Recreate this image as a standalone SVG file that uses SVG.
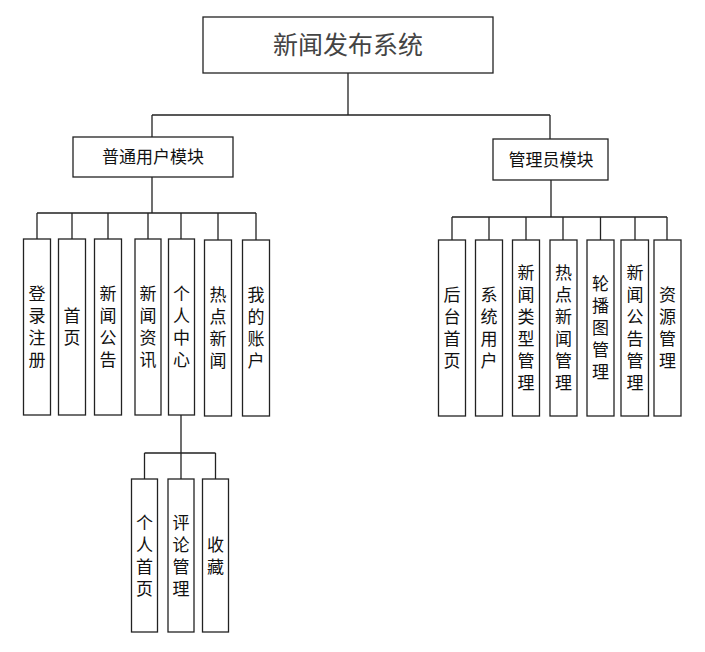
<svg xmlns="http://www.w3.org/2000/svg" width="705" height="652" viewBox="0 0 705 652">
<style>
.box{fill:#fff;stroke:#222;stroke-width:1.3}
.ln{fill:none;stroke:#222;stroke-width:1.3}
.t{font-family:"Noto Sans CJK SC","Liberation Sans",sans-serif;font-size:17px;fill:#111;text-anchor:middle}
.v{font-family:"Noto Sans CJK SC","Liberation Sans",sans-serif;font-size:17px;fill:#111;text-anchor:middle;writing-mode:vertical-rl;letter-spacing:5px}
.title{font-family:"Noto Sans CJK SC","Liberation Sans",sans-serif;font-size:25px;fill:#444;text-anchor:middle}
</style>
<rect width="705" height="652" fill="#fff"/>
<g id="connectors" class="ln">
<path d="M348 73V115M152 115H550M152 115V137M550 115V139"/>
<path d="M152 177V213M37 213H256M37 213V239M72 213V239M108 213V239M148 213V239M181 213V239M218 213V240M256 213V240"/>
<path d="M551 180V217M452 217H667M452 217V240M489 217V240M526 217V240M563 217V240M600.5 217V240M635 217V240M667 217V240"/>
<path d="M181 415V453M144.5 453H215.5M144.5 453V479M181 453V479M215.5 453V479"/>
</g>
<g id="root"><rect class="box" x="203" y="17" width="290" height="56"/><text class="title" x="348" y="54">新闻发布系统</text></g>
<g id="user"><rect class="box" x="73" y="137" width="160" height="40"/><text class="t" x="153" y="163">普通用户模块</text></g>
<g id="admin"><rect class="box" x="493" y="139" width="115" height="41"/><text class="t" x="551" y="166">管理员模块</text></g>

<g id="u1"><rect class="box" x="23.5" y="239" width="27" height="176"/><text class="v" x="37" y="329.5">登录注册</text></g>
<g id="u2"><rect class="box" x="58.5" y="239" width="27" height="176"/><text class="v" x="72" y="329.5">首页</text></g>
<g id="u3"><rect class="box" x="94.5" y="239" width="27" height="176"/><text class="v" x="108" y="329.5">新闻公告</text></g>
<g id="u4"><rect class="box" x="135" y="239" width="26" height="176"/><text class="v" x="148" y="329.5">新闻资讯</text></g>
<g id="u5"><rect class="box" x="168.5" y="239" width="26" height="176"/><text class="v" x="181.5" y="329.5">个人中心</text></g>
<g id="u6"><rect class="box" x="204.5" y="240" width="27" height="176"/><text class="v" x="218" y="330.5">热点新闻</text></g>
<g id="u7"><rect class="box" x="242.5" y="240" width="27" height="176"/><text class="v" x="256" y="330.5">我的账户</text></g>

<g id="a1"><rect class="box" x="438.5" y="240" width="27" height="176"/><text class="v" x="452" y="330.5">后台首页</text></g>
<g id="a2"><rect class="box" x="475.5" y="240" width="27" height="176"/><text class="v" x="489" y="330.5">系统用户</text></g>
<g id="a3"><rect class="box" x="512.5" y="240" width="27" height="176"/><text class="v" x="526" y="330.5">新闻类型管理</text></g>
<g id="a4"><rect class="box" x="550" y="240" width="27" height="176"/><text class="v" x="563.5" y="330.5">热点新闻管理</text></g>
<g id="a5"><rect class="box" x="587" y="240" width="27" height="176"/><text class="v" x="600.5" y="330.5">轮播图管理</text></g>
<g id="a6"><rect class="box" x="621" y="240" width="27.5" height="176"/><text class="v" x="635" y="330.5">新闻公告管理</text></g>
<g id="a7"><rect class="box" x="654" y="240" width="27" height="176"/><text class="v" x="667.5" y="330.5">资源管理</text></g>

<g id="p1"><rect class="box" x="131.5" y="479" width="26" height="153"/><text class="v" x="144.5" y="558">个人首页</text></g>
<g id="p2"><rect class="box" x="168" y="479" width="26" height="153"/><text class="v" x="181" y="558">评论管理</text></g>
<g id="p3"><rect class="box" x="202.5" y="479" width="26" height="153"/><text class="v" x="215.5" y="558">收藏</text></g>
</svg>
